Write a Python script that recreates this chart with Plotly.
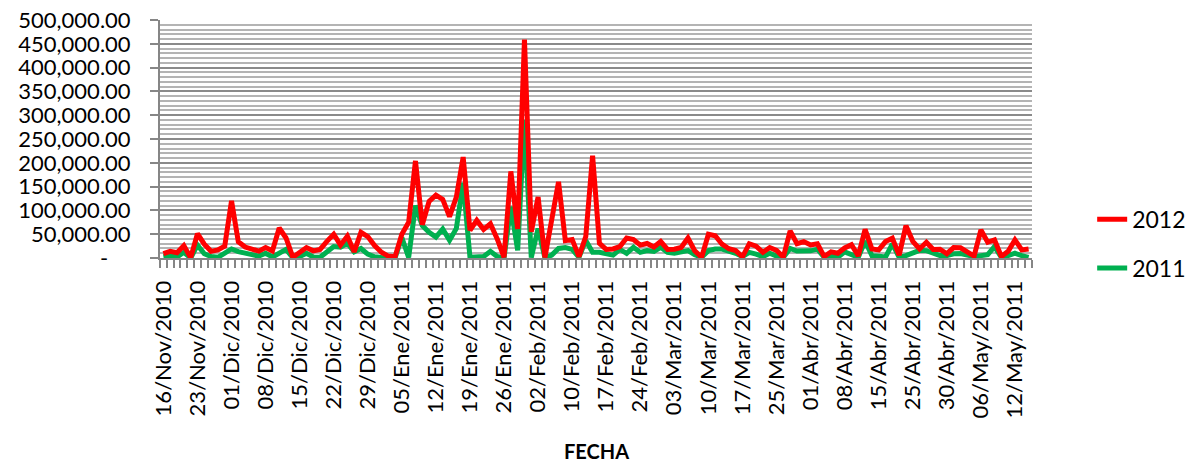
import plotly.graph_objects as go

tick_labels = ["16/Nov/2010", "23/Nov/2010", "01/Dic/2010", "08/Dic/2010", "15/Dic/2010",
               "22/Dic/2010", "29/Dic/2010", "05/Ene/2011", "12/Ene/2011", "19/Ene/2011",
               "26/Ene/2011", "02/Feb/2011", "10/Feb/2011", "17/Feb/2011", "24/Feb/2011",
               "03/Mar/2011", "10/Mar/2011", "17/Mar/2011", "25/Mar/2011", "01/Abr/2011",
               "08/Abr/2011", "15/Abr/2011", "25/Abr/2011", "30/Abr/2011", "06/May/2011",
               "12/May/2011"]
label_step = 5  # one label every 5 business days

values_2012 = [
    9000, 14000, 11000, 26000, 500, 51000, 29000, 14000, 17000, 25000,
    120000, 34000, 23000, 18000, 14500, 22000, 15000, 63000, 42000, 1500,
    12000, 22000, 15000, 18000, 35000, 50000, 27000, 46000, 13000, 54000,
    45000, 26000, 12000, 4000, 2500, 50000, 75000, 204000, 70000, 119000,
    132000, 123000, 87000, 128000, 212000, 58000, 79000, 60000, 72000, 40000,
    1500, 182000, 61000, 459000, 55000, 128000, 1000, 78000, 160000, 36500,
    39000, 3000, 45000, 215000, 31000, 18000, 19000, 24000, 42000, 38500,
    27000, 30500, 23000, 34500, 18000, 18500, 22000, 42000, 15000, 1400,
    50000, 46700, 29000, 19500, 15500, 2500, 30000, 25000, 12000, 22000,
    16000, 2000, 57000, 30000, 34500, 27500, 30000, 3000, 13000, 10000,
    21000, 28000, 4500, 60000, 19000, 17000, 34500, 41500, 6000, 68000,
    35000, 19000, 33000, 18000, 18500, 9000, 22000, 21500, 14000, 4000,
    59000, 33000, 38000, 3000, 14000, 38000, 17000, 19000]

values_2011 = [
    2500, 5000, 2000, 12000, 0, 27000, 9000, 3000, 1400, 11000,
    19000, 13500, 9000, 7000, 4000, 10000, 2000, 10000, 18000, 500,
    3000, 10000, 2000, 1500, 12000, 24000, 22500, 31000, 13000, 20000,
    8000, 2500, 1000, 0, 0, 43000, 1000, 110000, 68000, 54000,
    44000, 61000, 37000, 62000, 158000, 1500, 1000, 3000, 14000, 3000,
    0, 108000, 16000, 290000, 1000, 62000, 0, 6000, 20000, 22000,
    18000, 1500, 37000, 12000, 12000, 9000, 6000, 18000, 9800, 22500,
    11800, 15500, 13900, 22500, 11800, 9800, 11800, 15500, 7000, 1400,
    15500, 18800, 18800, 15500, 9800, 3000, 11800, 8000, 2800, 10000,
    4000, 1400, 20000, 14500, 14500, 15000, 18500, 1400, 5000, 1400,
    13000, 8000, 1400, 35500, 5000, 3500, 2000, 29500, 1400, 5000,
    11000, 16000, 15500, 10000, 5000, 5000, 9000, 9500, 6000, 3000,
    5000, 7000, 24000, 1400, 5000, 10000, 5000, 1400]

y_ticks = list(range(0, 500001, 50000))
y_text = ["-\u00a0\u00a0\u00a0\u00a0"] + [f"{v:,.2f}" for v in y_ticks[1:]]

n = len(values_2012)
x = list(range(n))

FONT = "Lato, Carlito, 'Liberation Sans', sans-serif"
AX = "#868686"

fig = go.Figure()
fig.add_trace(go.Scatter(x=x, y=values_2011, mode="lines", name="2011",
                         legendgroup="a", legendrank=2,
                         line=dict(color="#00B050", width=5)))
fig.add_trace(go.Scatter(x=x, y=values_2012, mode="lines", name="2012",
                         legendgroup="b", legendrank=1,
                         line=dict(color="#FF0000", width=5)))

fig.update_layout(
    width=1185, height=462,
    margin=dict(l=160, r=153, t=20, b=204, autoexpand=False),
    paper_bgcolor="white", plot_bgcolor="white",
    font=dict(family=FONT, size=22, color="black"),
    legend=dict(x=1.069, xanchor="left", y=0.06, yanchor="middle",
                traceorder="grouped", tracegroupgap=16,
                font=dict(size=23), bgcolor="rgba(0,0,0,0)"),
    showlegend=True,
)

fig.update_xaxes(
    automargin=False,
    range=[-0.5, n - 0.5],
    tickmode="array",
    tickvals=[i * label_step for i in range(len(tick_labels))],
    ticktext=tick_labels,
    tickangle=-90,
    ticks="", ticklen=0,
    ticklabelstandoff=12,
    tickfont=dict(size=22),
    showgrid=False, zeroline=False,
    showline=True, linecolor=AX, linewidth=2,
    minor=dict(ticks="outside", tick0=-0.5, dtick=1, ticklen=8,
               tickcolor=AX, tickwidth=2, showgrid=False),
)

fig.update_yaxes(
    automargin=False,
    range=[0, 500000],
    tickmode="array", tickvals=y_ticks, ticktext=y_text,
    ticks="outside", ticklen=8, tickcolor=AX, tickwidth=2,
    ticklabelstandoff=15,
    tickfont=dict(size=22),
    showgrid=True, gridcolor="#8a8a8a", gridwidth=2,
    zeroline=False,
    showline=True, linecolor=AX, linewidth=2,
    minor=dict(tick0=0, dtick=10000, showgrid=True, gridcolor="#b4b4b4",
               gridwidth=1.5, ticks=""),
)

fig.add_annotation(text="<b>FECHA</b>", xref="paper", yref="paper",
                   x=0.5, y=(258 - 451) / 238, xanchor="center", yanchor="middle",
                   showarrow=False, font=dict(size=20, family=FONT))

fig.write_html("out.html", config={"displayModeBar": False},
               post_script="document.body.style.margin='0px';document.body.style.overflow='hidden';")
